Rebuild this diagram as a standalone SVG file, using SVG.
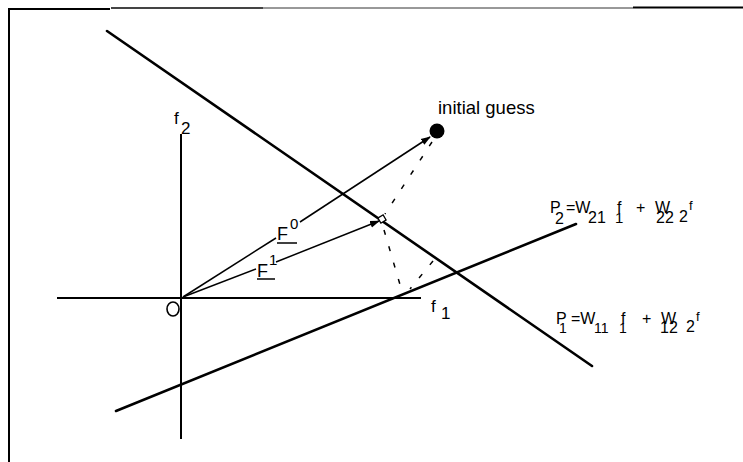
<svg xmlns="http://www.w3.org/2000/svg" width="743" height="462" viewBox="0 0 743 462">
<style>
.t{font-family:"Liberation Sans",Arial,sans-serif;fill:#000}
.big{stroke:#000;stroke-width:2.6;fill:none;stroke-linecap:round}
.axis{stroke:#000;stroke-width:2;fill:none}
.arr{stroke:#000;stroke-width:1.5;fill:none}
.dash{stroke:#000;stroke-width:1.5;fill:none;stroke-dasharray:5 12}
</style>
<defs>
<marker id="ah" markerWidth="10" markerHeight="8" refX="9" refY="4" orient="auto" markerUnits="userSpaceOnUse">
<path d="M0,0.5 L10,4 L0,7.5 z" fill="#000"/>
</marker>
</defs>
<rect width="743" height="462" fill="#fff"/>
<g id="frame">
<line x1="9" y1="9" x2="9" y2="462" stroke="#000" stroke-width="2"/>
<line x1="8" y1="9" x2="110" y2="9" stroke="#000" stroke-width="2"/>
<line x1="111" y1="8" x2="263" y2="8" stroke="#444" stroke-width="2"/>
<line x1="263" y1="8" x2="633" y2="8" stroke="#333" stroke-width="1"/>
<line x1="633" y1="7.5" x2="743" y2="7.5" stroke="#000" stroke-width="2"/>
</g>
<g id="line-p2">
<line class="big" x1="107" y1="31" x2="592" y2="366"/>
</g>
<g id="line-p1">
<line class="big" x1="116" y1="411" x2="576" y2="224"/>
</g>
<g id="axis-f2">
<line class="axis" x1="181" y1="134" x2="181" y2="439"/>
<text class="t" x="174" y="124" font-size="17">f</text>
<text class="t" x="181" y="134" font-size="17">2</text>
</g>
<g id="axis-f1">
<line class="axis" x1="57" y1="298" x2="421" y2="298"/>
<text class="t" x="431" y="312" font-size="17">f</text>
<text class="t" x="441" y="319" font-size="17">1</text>
</g>
<g id="origin">
<ellipse cx="173" cy="309" rx="6" ry="7" fill="none" stroke="#000" stroke-width="1.6"/>
</g>
<g id="initial-guess">
<circle cx="437" cy="131" r="7.5" fill="#000"/>
<text class="t" x="438" y="114" font-size="18.5">initial guess</text>
</g>
<g id="f1-point">
<rect x="379" y="216" width="6" height="6" fill="#fff" stroke="#000" stroke-width="1.3" transform="rotate(-30 382 219)"/>
</g>
<g id="connectors">
<line class="arr" x1="183" y1="297" x2="276" y2="238"/>
<line class="arr" x1="300" y1="222" x2="430" y2="137" marker-end="url(#ah)"/>
<line class="arr" x1="183" y1="297" x2="256" y2="269"/>
<line class="arr" x1="276" y1="262" x2="379" y2="221" marker-end="url(#ah)"/>
<line class="dash" x1="432" y1="142" x2="385" y2="214"/>
<line class="dash" x1="384" y1="230" x2="401" y2="288"/>
<line class="dash" x1="433" y1="261" x2="410" y2="289"/>
</g>
<g id="label-f0">
<text class="t" x="277" y="240" font-size="18">F</text>
<text class="t" x="290" y="229" font-size="15">0</text>
<line x1="277" y1="243" x2="297" y2="243" stroke="#000" stroke-width="1.5"/>
</g>
<g id="label-f1">
<text class="t" x="257" y="277" font-size="18">F</text>
<text class="t" x="269" y="265" font-size="15">1</text>
<line x1="257" y1="279" x2="275" y2="279" stroke="#000" stroke-width="1.5"/>
</g>
<g id="label-p2">
<text class="t" x="550" y="213" font-size="16">P</text>
<text class="t" x="555" y="224" font-size="16">2</text>
<text class="t" x="566" y="213" font-size="16">=W</text>
<text class="t" x="588" y="223" font-size="16">21</text>
<text class="t" x="617" y="213" font-size="16">f</text>
<text class="t" x="615" y="223" font-size="15">1</text>
<text class="t" x="636" y="213" font-size="16">+</text>
<text class="t" x="655" y="213" font-size="16">W</text>
<text class="t" x="656" y="223" font-size="16">22</text>
<text class="t" x="679" y="222" font-size="16">2</text>
<text class="t" x="689" y="210" font-size="13">f</text>
</g>
<g id="label-p1">
<text class="t" x="556" y="324" font-size="16">P</text>
<text class="t" x="559" y="333" font-size="14">1</text>
<text class="t" x="571" y="324" font-size="16">=W</text>
<text class="t" x="594" y="333" font-size="14">11</text>
<text class="t" x="621" y="324" font-size="16">f</text>
<text class="t" x="619" y="333" font-size="14">1</text>
<text class="t" x="642" y="324" font-size="16">+</text>
<text class="t" x="661" y="324" font-size="16">W</text>
<text class="t" x="660" y="333" font-size="16">12</text>
<text class="t" x="686" y="332" font-size="16">2</text>
<text class="t" x="696" y="321" font-size="13">f</text>
</g>
</svg>
